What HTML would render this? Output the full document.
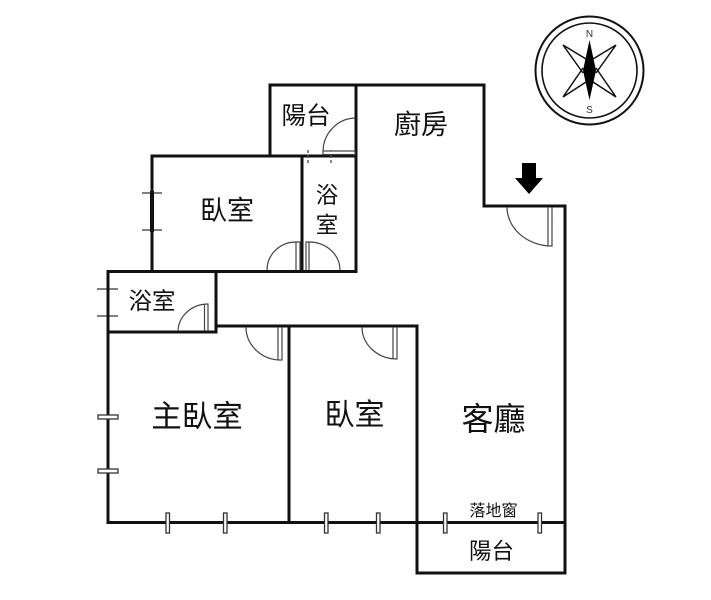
<!DOCTYPE html>
<html><head><meta charset="utf-8">
<style>html,body{margin:0;padding:0;background:#fff}svg{display:block}
text{font-family:"Liberation Sans","Noto Sans CJK TC",sans-serif;fill:#111;text-anchor:middle}</style>
</head><body>
<svg width="711" height="600" viewBox="0 0 711 600" xmlns="http://www.w3.org/2000/svg">
<!-- compass -->
<g fill="none" stroke="#111">
<circle cx="589.5" cy="70.5" r="54" stroke-width="2"/>
<circle cx="589.5" cy="70.5" r="47.5" stroke-width="1.6"/>
<path d="M563 45L586 59M563 45L583 73M616 45L593 59M616 45L596 73M563 97L586 82M563 97L583 68M616 97L593 82M616 97L596 68" stroke-width="1.500"/>
</g>
<path d="M589.5 40 L596 70.500 L589.5 100 L583 70.500 Z" fill="#000"/>
<text x="589.5" y="37" font-size="10" style="fill:#333">N</text>
<text x="589.5" y="113" font-size="10" style="fill:#333">S</text>
<!-- arrow -->
<path d="M522 163H536V178H543L529 194L515 178H522Z" fill="#000"/>
<!-- windows/ticks under walls -->
<g stroke="#555" stroke-width="1.4" fill="none">
<path d="M142 193H162M142 230H162M97 289H118M97 316H118"/>
</g>
<!-- walls -->
<g stroke="#111" stroke-width="3" fill="none" stroke-linecap="square">
<path d="M270 156V85H484V206H565V573H417V326H217M356 85V271.5H108M152 156H356M152 156V271M302 156V271M216 272V332H110M108 272V522.5H565M289 326V522.5"/>
<path d="M152 193V230" stroke-width="4"/>
</g>
<path d="M308 150V165M331 150V165" stroke="#555" stroke-width="1.4" stroke-dasharray="3 2" fill="none"/>
<!-- hollow window markers -->
<g fill="#fff" stroke="#333" stroke-width="1.3">
<rect x="98" y="415" width="20" height="4"/>
<rect x="98" y="469" width="20" height="4"/>
<rect x="166" y="513" width="3.500" height="20"/>
<rect x="223.500" y="513" width="3.500" height="20"/>
<rect x="324.500" y="513" width="3.500" height="20"/>
<rect x="376.500" y="513" width="3.500" height="20"/>
<rect x="443.500" y="513" width="3.500" height="20"/>
<rect x="538" y="513" width="3.500" height="20"/>
</g>
<!-- doors -->
<g fill="none" stroke="#444" stroke-width="1.2">
<path d="M323 152A33 34 0 0 1 355 118"/>
<rect x="323" y="151" width="32" height="3.500" fill="#fff"/>
<path d="M267 270A29 28 0 0 1 296 242H300V270M296 242V270"/>
<path d="M340 270A31 28 0 0 0 309 242H306V270M309 242V270"/>
<path d="M178 331A30 28 0 0 1 208 304V331M204.500 304V331"/>
<path d="M246 327A35 33 0 0 0 282 360V327M278 327V360"/>
<path d="M362 327A35 32 0 0 0 397 359V327M393 327V359"/>
<path d="M507 207A45 39 0 0 0 552 246V207M548 207V246"/>
</g>
<!-- labels -->
<text x="306" y="124" font-size="24.500">陽台</text>
<text x="421" y="134" font-size="27">廚房</text>
<text x="227" y="220" font-size="27">臥室</text>
<text x="327" y="203" font-size="22.500">浴</text>
<text x="327" y="233" font-size="22.500">室</text>
<text x="152" y="309" font-size="23.500">浴室</text>
<text x="197" y="427" font-size="30.500">主臥室</text>
<text x="354.500" y="425" font-size="30">臥室</text>
<text x="493.500" y="430" font-size="32">客廳</text>
<text x="493.500" y="516" font-size="16">落地窗</text>
<text x="491.500" y="559" font-size="22.500">陽台</text>
</svg>
</body></html>
